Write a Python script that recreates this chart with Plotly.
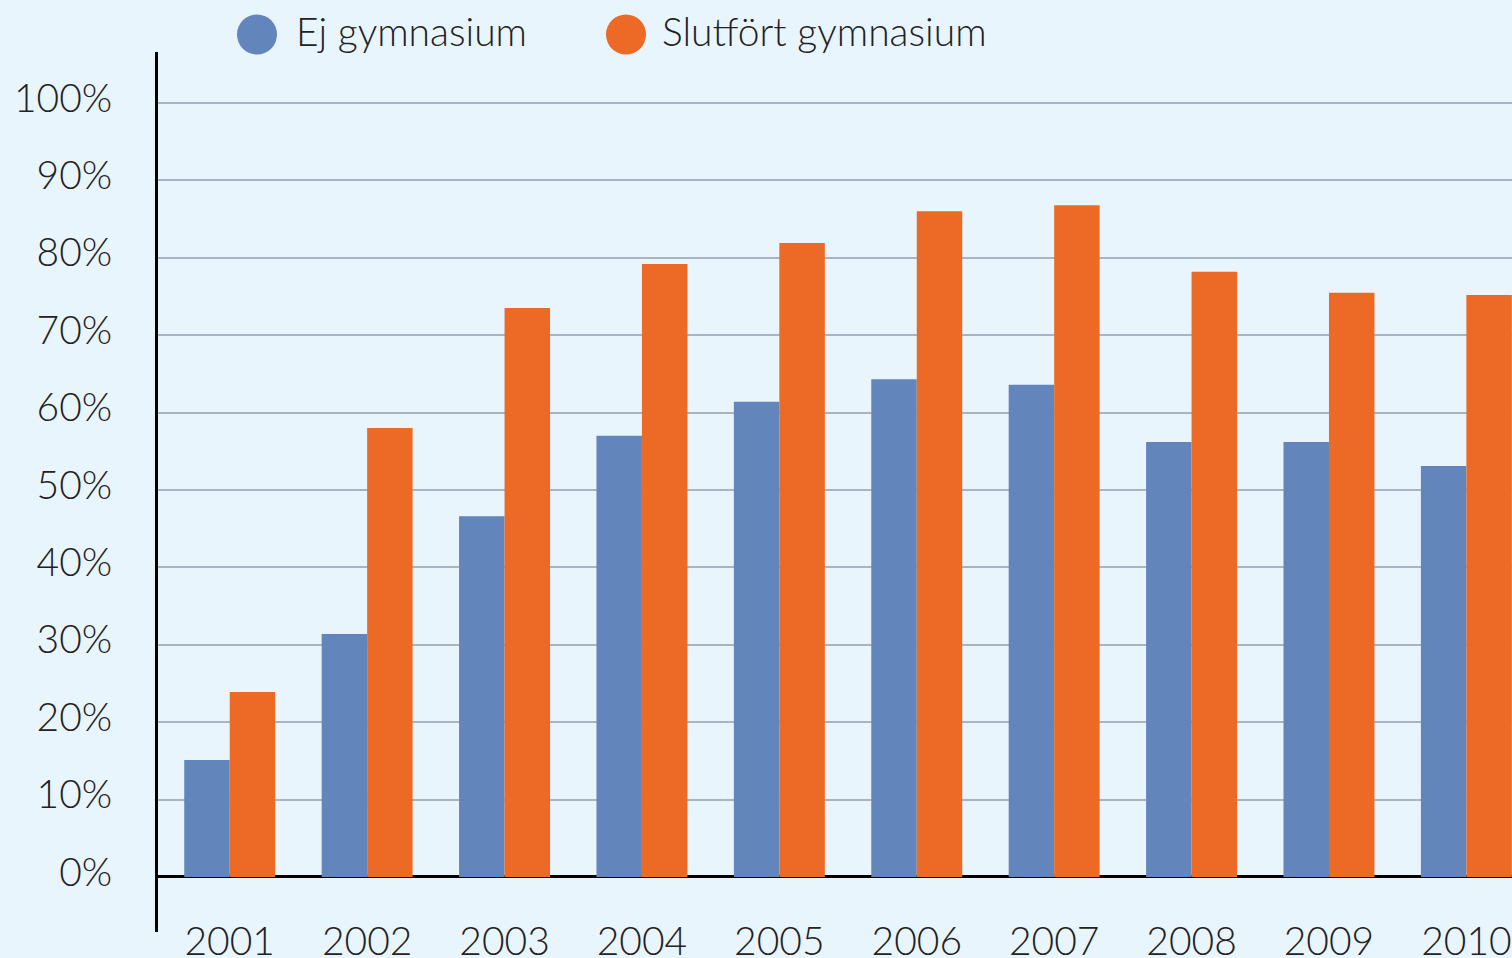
import plotly.graph_objects as go

years = ["2001", "2002", "2003", "2004", "2005", "2006", "2007", "2008", "2009", "2010"]
ej_gymnasium = [15.1, 31.4, 46.6, 57.0, 61.4, 64.3, 63.6, 56.2, 56.2, 53.1]
slutfort_gymnasium = [23.9, 58.0, 73.5, 79.2, 81.9, 86.0, 86.8, 78.2, 75.5, 75.2]
y_ticks = list(range(0, 101, 10))
y_ticklabels = [f"{v}%" for v in y_ticks]
series_names = ["Ej gymnasium", "Slutfört gymnasium"]
colors = ["#6285BB", "#EC6A26"]

W, H = 1512, 958
L, R, T, B = 158, 0, 52, 26
pw, ph = W - L - R, H - T - B

def px(x):
    return (x - L) / pw

def py(y):
    return (H - B - y) / ph

FONT = "Lato"
TXT = "#222222"
BG = "#E9F5FD"

fig = go.Figure()
fig.add_trace(go.Bar(x=years, y=ej_gymnasium, name=series_names[0],
                     marker=dict(color=colors[0], line=dict(width=0)), showlegend=False))
fig.add_trace(go.Bar(x=years, y=slutfort_gymnasium, name=series_names[1],
                     marker=dict(color=colors[1], line=dict(width=0)), showlegend=False))

# manual legend (circles + text)
legend_items = [(257, 297), (626, 663)]
shapes = []
annotations = []
for (cx, tx), name, col in zip(legend_items, series_names, colors):
    shapes.append(dict(type="circle", xref="paper", yref="paper",
                       x0=px(cx - 20), x1=px(cx + 20), y0=py(54.5), y1=py(14.5),
                       fillcolor=col, line=dict(width=0)))
    annotations.append(dict(text=name, xref="paper", yref="paper", x=px(tx - 3), y=py(31),
                            xanchor="left", yanchor="middle", showarrow=False,
                            font=dict(family=FONT, size=39, color=TXT, weight=300)))

fig.update_layout(
    width=W, height=H,
    margin=dict(l=L, r=R, t=T, b=B, pad=0, autoexpand=False),
    paper_bgcolor=BG, plot_bgcolor=BG,
    barmode="group", bargap=0.338, bargroupgap=0,
    showlegend=False,
    shapes=shapes, annotations=annotations,
    font=dict(family=FONT, color=TXT, weight=300),
)
fig.update_xaxes(
    type="category", range=[-0.522, 9.332], showgrid=False, showline=False,
    ticks="", zeroline=False, automargin=False,
    tickfont=dict(family=FONT, size=39, color=TXT, weight=300),
    ticklabelstandoff=-17,
)
fig.update_yaxes(
    range=[-7.11, 106.59], tickvals=y_ticks, ticktext=y_ticklabels,
    showgrid=True, gridcolor="#A9B4C0", gridwidth=1.5,
    zeroline=True, zerolinecolor="#000000", zerolinewidth=3,
    showline=True, linecolor="#000000", linewidth=3, automargin=False,
    ticks="", tickfont=dict(family=FONT, size=39, color=TXT, weight=300),
    ticklabelstandoff=35, ticklabelshift=-5,
)

fig.write_html(
    "out.html",
    config={"displayModeBar": False},
    post_script="document.body.style.margin='0';document.body.style.overflow='hidden';"
                "document.body.style.background='%s';" % BG,
)
